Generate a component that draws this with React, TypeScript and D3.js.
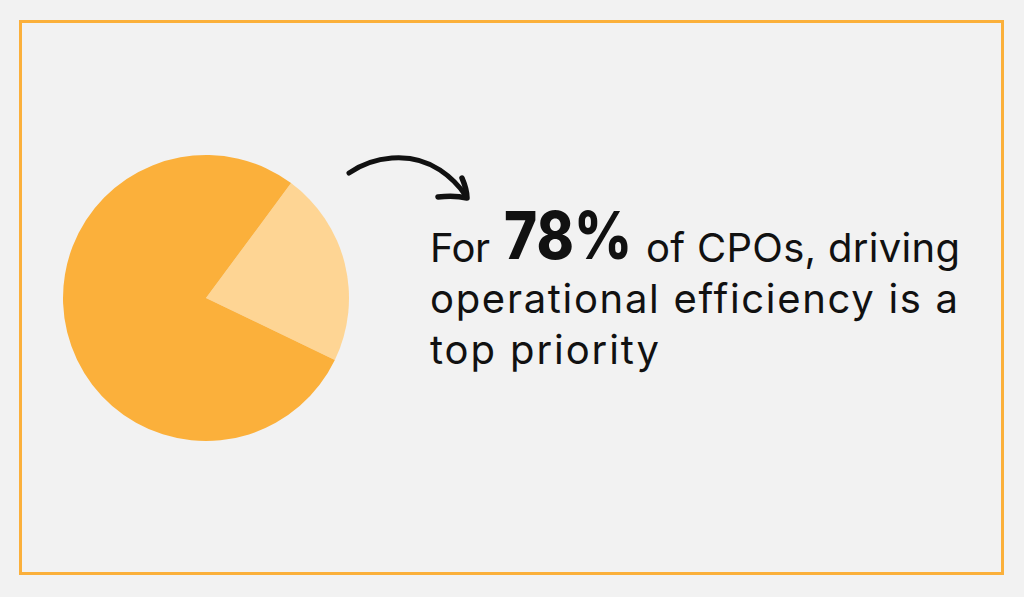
import * as d3 from "d3"
import { useEffect, useRef } from "react"

// share of CPOs
const labels = ["other", "efficiency top priority"]
const values = [22, 78]
const colors = ["#FED594", "#FBB03B"]

const headline = "78%"
const line1a = "For"
const line1b = "of CPOs, driving"
const line2 = "operational efficiency is a"
const line3 = "top priority"

export default function App() {
  const ref = useRef<SVGSVGElement>(null)

  useEffect(() => {
    const width = 1024, height = 597
    const svg = d3.select(ref.current)
    svg.selectAll("*").remove()
    svg.attr("width", width).attr("height", height)

    svg.append("rect")
      .attr("width", width).attr("height", height)
      .attr("fill", "#f2f2f2")

    // frame
    svg.append("rect")
      .attr("x", 20.5).attr("y", 21.5)
      .attr("width", 982).attr("height", 552)
      .attr("fill", "none")
      .attr("stroke", "#FBB03B")
      .attr("stroke-width", 3)

    // pie
    const cx = 206, cy = 298, r = 143
    const pie = d3.pie<number>().sort(null)
      .startAngle(36.5 * Math.PI / 180)
      .endAngle(36.5 * Math.PI / 180 + 2 * Math.PI)
    const arc = d3.arc<d3.PieArcDatum<number>>().innerRadius(0).outerRadius(r)

    svg.append("g")
      .attr("transform", `translate(${cx},${cy})`)
      .selectAll("path")
      .data(pie(values))
      .enter().append("path")
      .attr("d", arc)
      .attr("fill", (d, i) => colors[i])
      .append("title").text((d, i) => `${labels[i]}: ${values[i]}%`)

    // hand drawn arrow
    const arrow = svg.append("g")
      .attr("fill", "none")
      .attr("stroke", "#111")
      .attr("stroke-linecap", "round")
      .attr("stroke-linejoin", "round")
    arrow.append("path")
      .attr("d", "M349,173 C372,157 410,150 440,170 C452,178 460,187 466,196")
      .attr("stroke-width", 5)
    arrow.append("path")
      .attr("d", "M462,178 C465,185 467,192 467,198 C458,196 448,196 438,197")
      .attr("stroke-width", 5.5)

    // text
    const font = "'Inter', 'Noto Sans', sans-serif"
    const t1 = svg.append("text")
      .attr("y", 262)
      .attr("font-family", font)
      .attr("font-size", 40)
      .attr("fill", "#111")
    t1.append("tspan").attr("x", 430).attr("textLength", 60).text(line1a)
    t1.append("tspan").attr("x", 504).attr("y", 259)
      .attr("font-size", 66).attr("font-weight", 800)
      .attr("textLength", 128).attr("lengthAdjust", "spacingAndGlyphs")
      .text(headline)
    t1.append("tspan").attr("x", 646).attr("y", 262).attr("textLength", 314).text(line1b)

    svg.append("text")
      .attr("x", 430).attr("y", 313)
      .attr("font-family", font)
      .attr("font-size", 40)
      .attr("textLength", 528)
      .attr("fill", "#111")
      .text(line2)

    svg.append("text")
      .attr("x", 430).attr("y", 364)
      .attr("font-family", font)
      .attr("font-size", 40)
      .attr("textLength", 229)
      .attr("fill", "#111")
      .text(line3)
  })

  return (
    <svg ref={ref} style={{ position: "absolute", left: 0, top: 0, display: "block" }} />
  )
}
